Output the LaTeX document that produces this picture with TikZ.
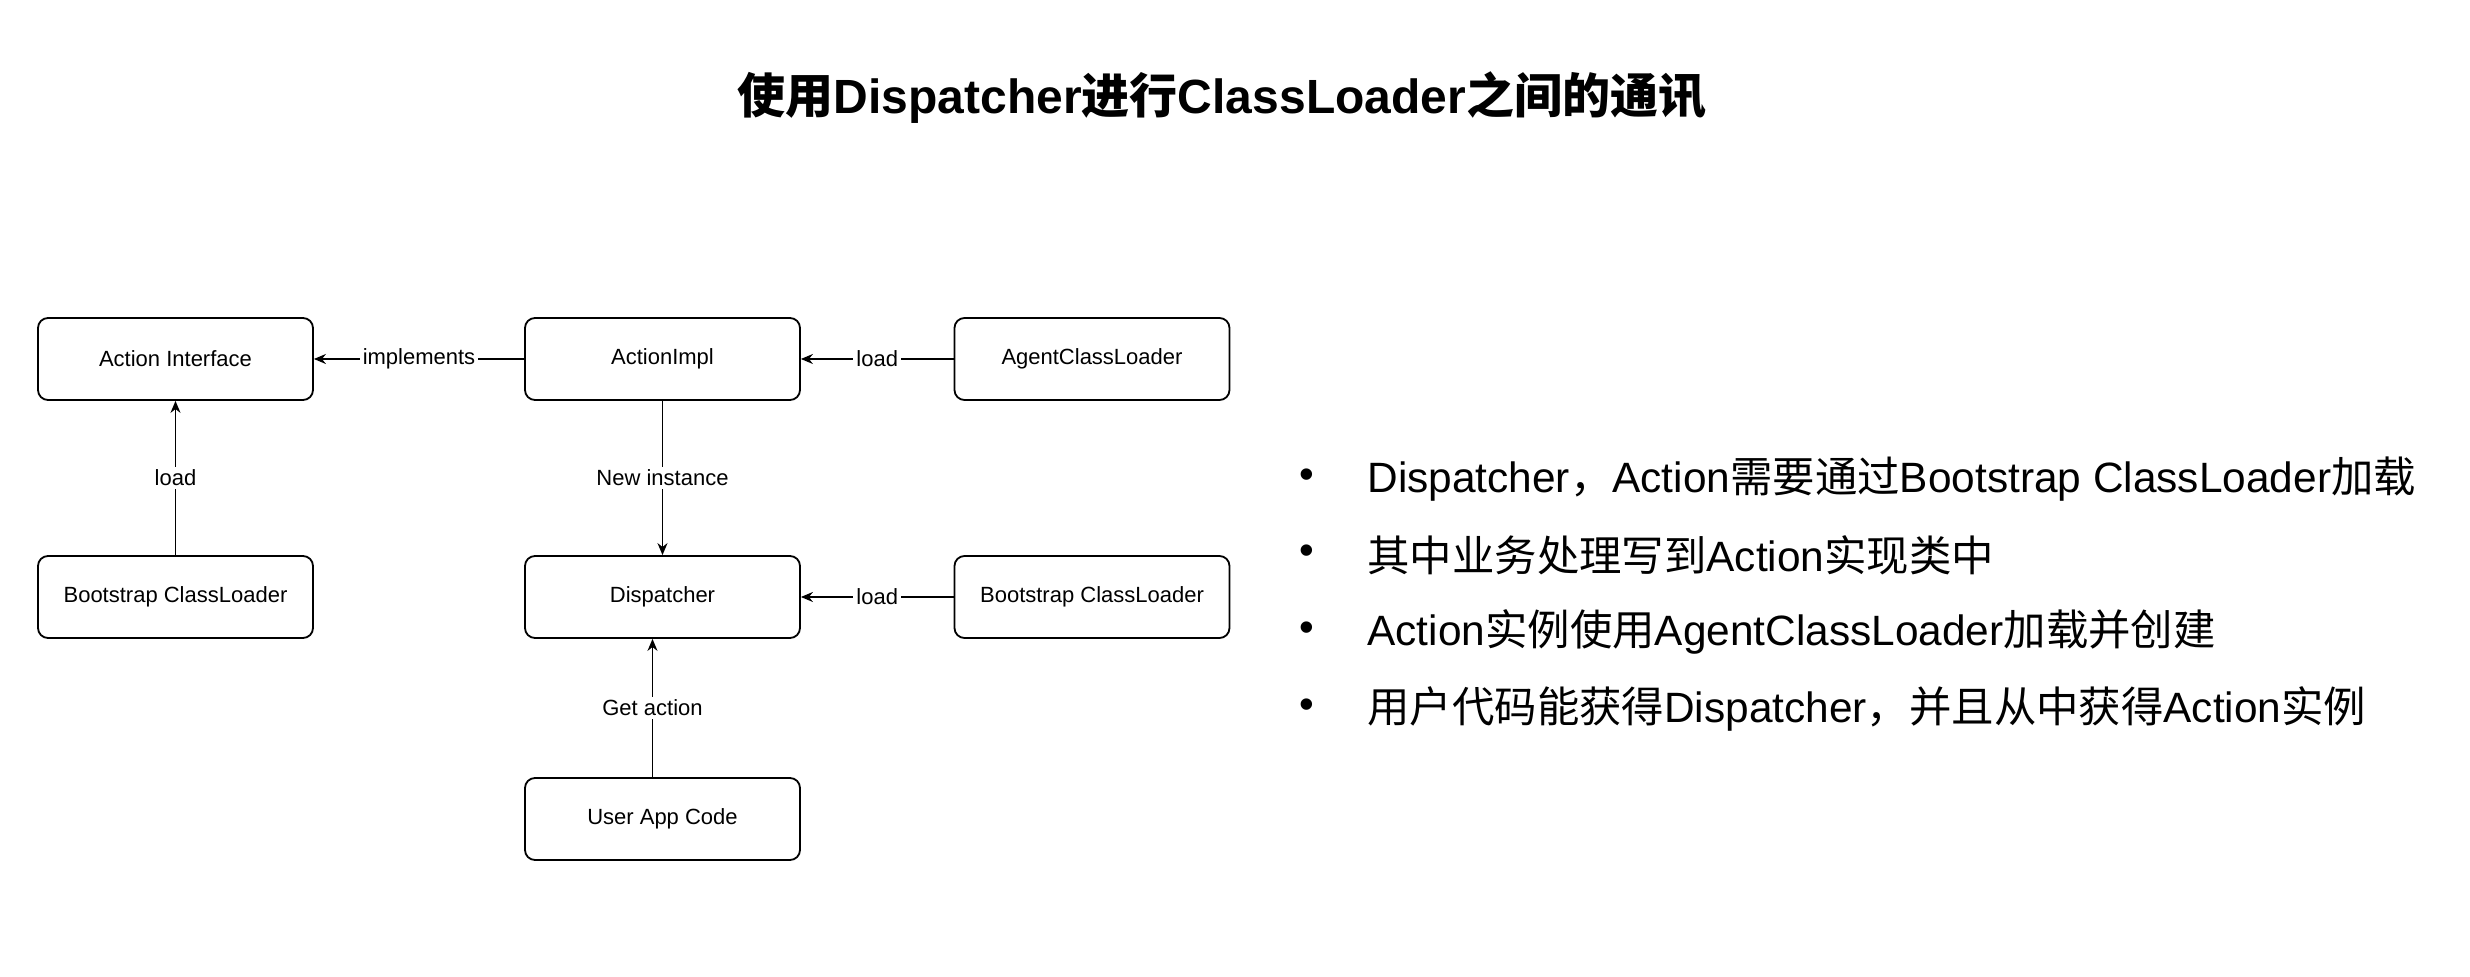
\documentclass[tikz,border=0pt]{standalone}
\usepackage{fontspec}
\setmainfont{Liberation Sans}
\newfontfamily\cjk{Noto Sans CJK SC}
\newcommand{\zh}[1]{{\cjk #1}}
\usetikzlibrary{arrows.meta}
\begin{document}
\begin{tikzpicture}[x=0.5pt,y=-0.5pt,
  box/.style={draw=black,line width=0.9pt,rounded corners=5pt,minimum width=137.5pt,minimum height=41pt,inner sep=0pt,font=\fontsize{11}{13}\selectfont},
  conn/.style={draw=black,line width=0.7pt,-{Stealth[length=6pt,width=5pt]}},
  lbl/.style={fill=white,inner sep=1.5pt,font=\fontsize{11}{13}\selectfont},
  bul/.style={anchor=west,inner sep=0pt,font=\fontsize{21.2}{25}\selectfont}]
\useasboundingbox[fill=white] (0,0) rectangle (2470,977);
% title
\node[font=\fontsize{24}{28}\selectfont\bfseries] (title) at (1222,98) {\zh{使用}Dispatcher\zh{进行}ClassLoader\zh{之间的通讯}};
% boxes
\node[box] (ai) at (175.5,359) {Action Interface};
\node[box] (impl) at (662.5,359) {ActionImpl};
\node[box] (agent) at (1092,359) {AgentClassLoader};
\node[box] (bootl) at (175.5,597) {Bootstrap ClassLoader};
\node[box] (disp) at (662.5,597) {Dispatcher};
\node[box] (bootr) at (1092,597) {Bootstrap ClassLoader};
\node[box] (user) at (662.5,819) {User App Code};
% connectors
\draw[conn] (impl) -- node[lbl] {implements} (ai);
\draw[conn] (agent) -- node[lbl] {load} (impl);
\draw[conn] (bootl) -- node[lbl] {load} (ai);
\draw[conn] (impl) -- node[lbl] {New instance} (disp);
\draw[conn] (bootr) -- node[lbl] {load} (disp);
\draw[conn] ([xshift=-5pt]user.north) -- node[lbl] {Get action} ([xshift=-5pt]disp.south);
% bullets
\node[bul] (b1) at (1367,479) {Dispatcher\zh{，}Action\zh{需要通过}Bootstrap ClassLoader\zh{加载}};
\node[bul] (b2) at (1367,555) {\zh{其中业务处理写到}Action\zh{实现类中}};
\node[bul] (b3) at (1367,632) {Action\zh{实例使用}AgentClassLoader\zh{加载并创建}};
\node[bul] (b4) at (1367,709) {\zh{用户代码能获得}Dispatcher\zh{，并且从中获得}Action\zh{实例}};
\foreach \b in {b1,b2,b3,b4}
  \node[font=\fontsize{21}{25}\selectfont,inner sep=0pt] at ([xshift=-30pt]\b.west) {•};
\end{tikzpicture}
\end{document}
